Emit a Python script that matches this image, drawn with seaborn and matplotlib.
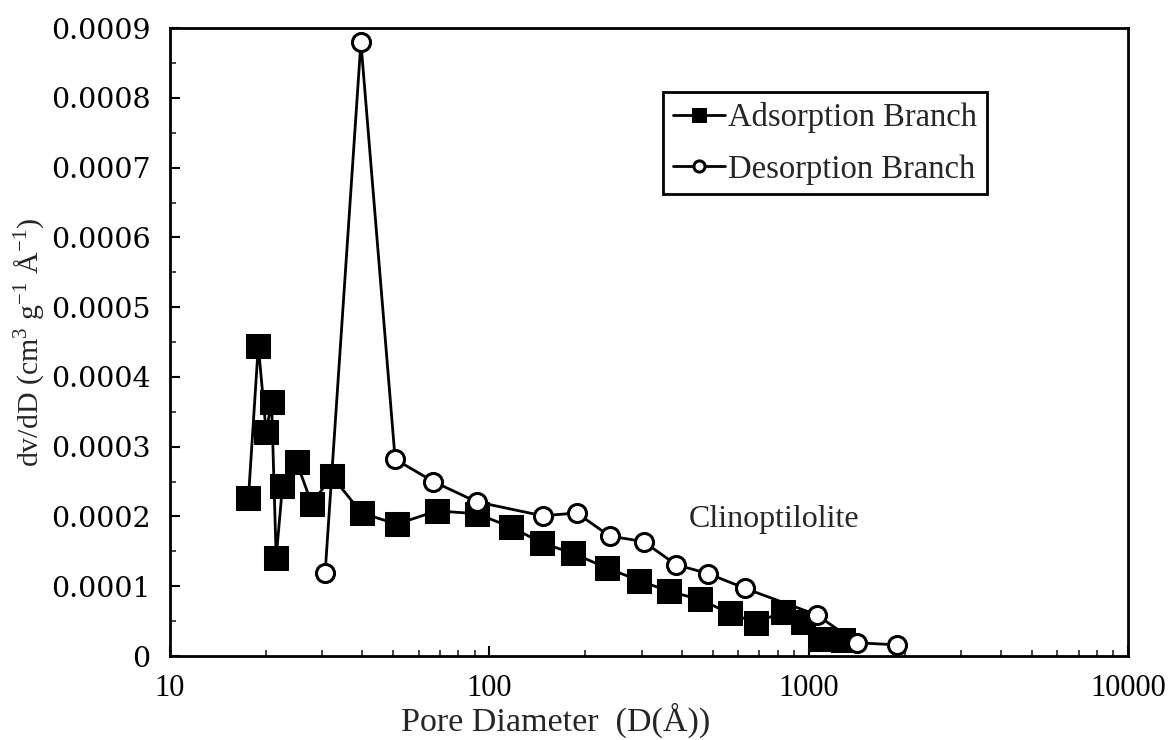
import matplotlib
matplotlib.use("Agg")
import matplotlib.pyplot as plt
import matplotlib.ticker as mticker
import seaborn as sns
import pandas as pd

ads_d = [17.6, 18.9, 20.0, 20.8, 21.5, 22.5, 24.9, 27.8, 32.1, 39.8, 51.3, 68.4, 91.3,
         116.5, 146.5, 183.0, 234.0, 295.0, 364.0, 457.0, 567.0, 684.0, 829.0, 962.0,
         1086.0, 1284.0]
ads_v = [0.000226, 0.000445, 0.000321, 0.000364, 0.000141, 0.000244, 0.000278, 0.000218,
         0.000258, 0.000205, 0.000189, 0.000208, 0.000204, 0.000185, 0.000162, 0.000147,
         0.000126, 0.000108, 0.000093, 0.000081, 0.000061, 0.000048, 0.000063, 0.000049,
         0.000024, 0.000023]

des_d = [30.6, 39.6, 50.7, 66.8, 91.2, 146.9, 187.8, 238.0, 304.0, 384.0, 485.0, 632.0,
         1059.0, 1415.0, 1888.0]
des_v = [0.000119, 0.000880, 0.000282, 0.000250, 0.000221, 0.000201, 0.000205, 0.000172,
         0.000164, 0.000131, 0.000118, 0.000097, 0.000059, 0.000019, 0.000016]

series_names = ["Adsorption Branch", "Desorption Branch"]
x_ticks = [10, 100, 1000, 10000]
x_tick_labels = ["10", "100", "1000", "10000"]
y_ticks = [0, 0.0001, 0.0002, 0.0003, 0.0004, 0.0005, 0.0006, 0.0007, 0.0008, 0.0009]
y_tick_labels = ["0", "0.0001", "0.0002", "0.0003", "0.0004", "0.0005", "0.0006",
                 "0.0007", "0.0008", "0.0009"]

sns.set_style("ticks")
plt.rcParams["font.family"] = ["Liberation Serif", "DejaVu Serif"]
plt.rcParams["mathtext.fontset"] = "custom"
plt.rcParams["mathtext.rm"] = "Liberation Serif"

fig = plt.figure(figsize=(11.75, 7.4), dpi=100)
ax = fig.add_axes([0.1447, 0.1135, 0.8153, 0.8485])

ads = pd.DataFrame({"d": ads_d, "v": ads_v})
des = pd.DataFrame({"d": des_d, "v": des_v})

sns.lineplot(data=ads, x="d", y="v", ax=ax, color="black", linewidth=2,
             marker="s", markersize=17, markeredgecolor="black", markerfacecolor="black",
             label=series_names[0], sort=False)
sns.lineplot(data=des, x="d", y="v", ax=ax, color="black", linewidth=2,
             marker="o", markersize=13, markeredgecolor="black", markerfacecolor="white",
             markeredgewidth=2.2, label=series_names[1], sort=False)

ax.set_xscale("log")
ax.set_xlim(10, 10000)
ax.set_ylim(0, 0.0009)
ax.set_xticks(x_ticks)
ax.set_xticklabels(x_tick_labels, fontsize=22)
ax.set_yticks(y_ticks)
ax.set_yticklabels(y_tick_labels, fontsize=20.5, family=["DejaVu Serif"])
ax.yaxis.set_minor_locator(mticker.MultipleLocator(0.00005))
ax.xaxis.set_minor_locator(mticker.LogLocator(base=10, subs=range(2, 10)))
ax.xaxis.set_minor_formatter(mticker.NullFormatter())

ax.tick_params(axis="both", which="major", direction="in", length=7, width=1.5,
               colors="black")
ax.tick_params(axis="x", which="major", pad=13)
ax.tick_params(axis="y", which="major", pad=14)
ax.tick_params(axis="both", which="minor", direction="in", length=4, width=1.2)
for s in ax.spines.values():
    s.set_linewidth(2)
    s.set_color("black")
    s.set_visible(True)

ax.set_xlabel("Pore Diameter  (D(Å))", fontsize=24.5)
ax.xaxis.label.set_va("center")
ax.xaxis.set_label_coords(0.403, -0.102)
ax.set_ylabel(r"dv/dD (cm$^3$ g$^{-1}$ Å$^{-1}$)", fontsize=21.5)
ax.yaxis.label.set_va("center")
ax.yaxis.set_label_coords(-0.146, 0.5)

ax.text(777, 0.000196, "Clinoptilolite", fontsize=23, ha="center", va="center",
        transform=ax.transData)

leg = ax.legend(loc="upper left", bbox_to_anchor=(0.5146, 0.898), fontsize=23.5,
                frameon=True, fancybox=False, edgecolor="black", framealpha=1,
                handlelength=1.6, handletextpad=0.1, borderpad=0.3, labelspacing=0.65,
                borderaxespad=0)
leg.get_frame().set_linewidth(2)
for h in leg.legend_handles:
    h.set_markersize(10 if h.get_marker() == "s" else 8)

fig.savefig("out.png", dpi=100, facecolor="white")
